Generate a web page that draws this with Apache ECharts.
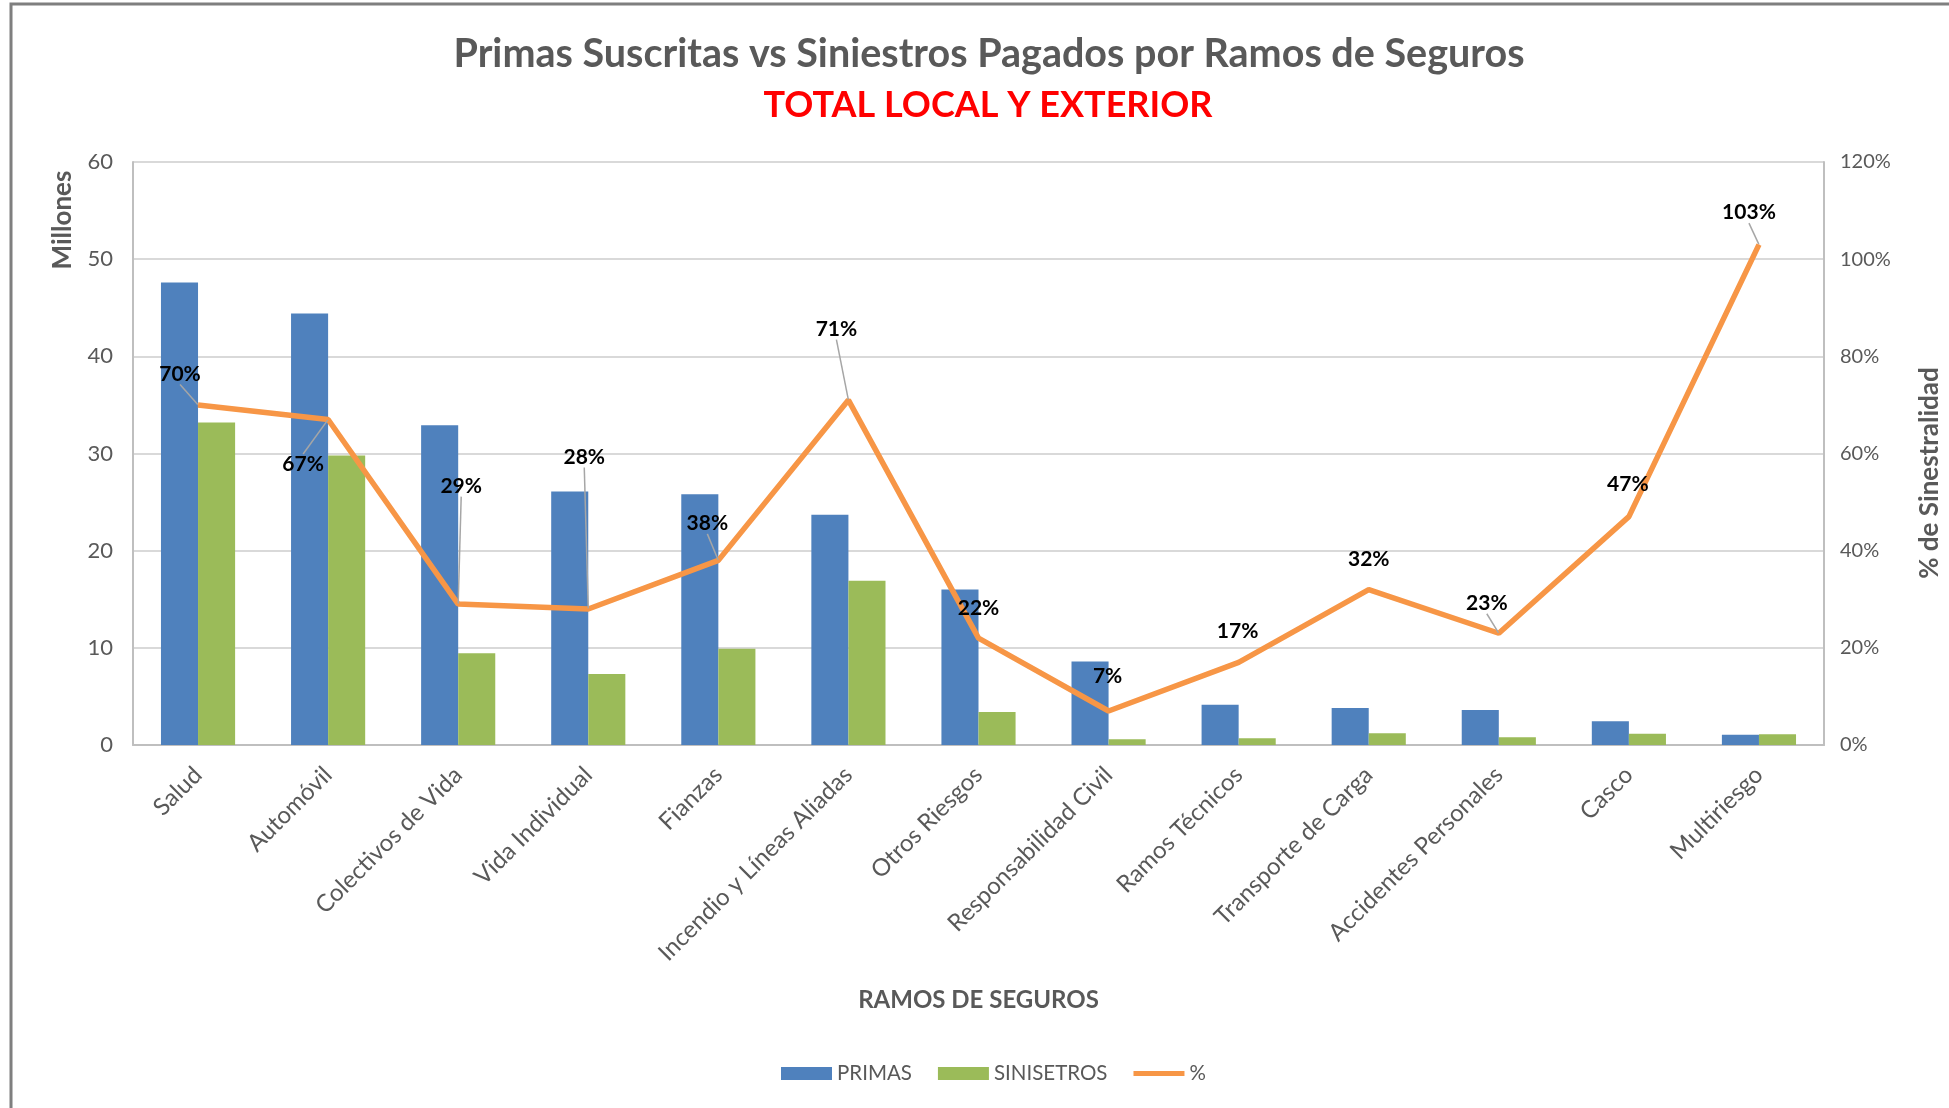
<!DOCTYPE html>
<html lang="es" style="height: 100%">
<head>
  <meta charset="utf-8">
</head>
<body style="height: 100%; margin: 0; background: #fff">
<div id="container" style="height: 100%"></div>

<script type="text/javascript" src="https://fastly.jsdelivr.net/npm/echarts@6/dist/echarts.min.js"></script>
<script type="text/javascript">
  // datos
  var ramos = ['Salud', 'Automóvil', 'Colectivos de Vida', 'Vida Individual', 'Fianzas',
    'Incendio y Líneas Aliadas', 'Otros Riesgos', 'Responsabilidad Civil', 'Ramos Técnicos',
    'Transporte de Carga', 'Accidentes Personales', 'Casco', 'Multiriesgo'];
  var primas = [47.6, 44.4, 32.9, 26.1, 25.8, 23.7, 16.0, 8.6, 4.15, 3.8, 3.6, 2.45, 1.05];
  var siniestros = [33.2, 29.8, 9.45, 7.3, 9.9, 16.9, 3.4, 0.6, 0.7, 1.2, 0.8, 1.15, 1.1];
  var siniestralidad = [70, 67, 29, 28, 38, 71, 22, 7, 17, 32, 23, 47, 103];

  // escalas de los ejes
  var millonesMax = 60, millonesPaso = 10;
  var pctMax = 120, pctPaso = 20;

  // desplazamiento de cada etiqueta del % (dx, dy, con linea guia)
  var etiquetaOffset = [[-18, -31, 1], [-25, 45, 1], [3, -118, 1], [-4, -152, 1], [-11, -37, 1],
    [-12, -71, 1], [0, -30, 0], [-1, -35, 0], [-1, -31, 0], [0, -30, 0], [-12, -30, 1],
    [-1, -32, 0], [-10, -32, 1]];

  var fuente = 'Lato';
  var gris = '#595959';

  var dom = document.getElementById('container');
  var myChart = echarts.init(dom, null, { renderer: 'canvas' });

  var option = {
    backgroundColor: '#fff',
    textStyle: { fontFamily: fuente },
    title: [
      {
        text: 'Primas Suscritas vs Siniestros Pagados por Ramos de Seguros',
        left: 984, top: 29, textAlign: 'center',
        textStyle: { fontFamily: fuente, fontSize: 39.5, fontWeight: 'bold', color: gris }
      },
      {
        text: 'TOTAL LOCAL Y EXTERIOR',
        left: 983, top: 82, textAlign: 'center',
        textStyle: { fontFamily: fuente, fontSize: 36, fontWeight: 'bold', color: '#FF0000' }
      }
    ],
    legend: {
      top: 1058,
      left: 776,
      itemWidth: 51,
      itemHeight: 13,
      itemGap: 26,
      textStyle: { fontFamily: fuente, fontSize: 20.5, color: gris },
      data: [
        { name: 'PRIMAS', icon: 'rect' },
        { name: 'SINISETROS', icon: 'rect' },
        { name: '%', icon: 'path://M0,0 H51 V5 H0 Z' }
      ]
    },
    grid: {
      left: 133, right: 125, top: 162, bottom: 363,
      containLabel: false,
      outerBoundsMode: 'none'
    },
    xAxis: {
      type: 'category',
      data: ramos,
      name: 'RAMOS DE SEGUROS',
      nameLocation: 'middle',
      nameGap: 243,
      nameTextStyle: { fontFamily: fuente, fontSize: 24, fontWeight: 'bold', color: gris },
      axisLine: { lineStyle: { color: '#bfbfbf', width: 2 } },
      axisTick: { show: false },
      axisLabel: {
        rotate: 45, interval: 0, margin: 26,
        fontFamily: fuente, fontSize: 24, color: gris
      }
    },
    yAxis: [
      {
        type: 'value',
        min: 0, max: millonesMax, interval: millonesPaso,
        axisLine: { show: true, lineStyle: { color: '#bfbfbf', width: 2 } },
        axisTick: { show: false },
        splitLine: { lineStyle: { color: '#d9d9d9', width: 2 } },
        axisLabel: { margin: 20, fontFamily: fuente, fontSize: 22, color: gris }
      },
      {
        type: 'value',
        min: 0, max: pctMax, interval: pctPaso,
        position: 'right',
        axisLine: { show: true, lineStyle: { color: '#bfbfbf', width: 2 } },
        axisTick: { show: false },
        splitLine: { show: false },
        axisLabel: { margin: 16, fontFamily: fuente, fontSize: 20, color: gris, formatter: '{value}%' }
      }
    ],
    graphic: [
      {
        type: 'rect', silent: true,
        shape: { x: 11, y: 4, width: 3000, height: 3000 },
        style: { fill: 'none', stroke: '#7f7f7f', lineWidth: 3 }
      },
      {
        type: 'text', x: 63, y: 220, rotation: Math.PI / 2,
        style: {
          text: 'Millones', align: 'center', verticalAlign: 'middle',
          fontFamily: fuente, fontSize: 26, fontWeight: 'bold', fill: gris
        }
      },
      {
        type: 'text', x: 1930, y: 473, rotation: Math.PI / 2,
        style: {
          text: '% de Sinestralidad', align: 'center', verticalAlign: 'middle',
          fontFamily: fuente, fontSize: 26, fontWeight: 'bold', fill: gris
        }
      }
    ],
    series: [
      {
        name: 'PRIMAS',
        type: 'bar',
        data: primas,
        barGap: 0,
        barCategoryGap: '43%',
        itemStyle: { color: '#4F81BD' }
      },
      {
        name: 'SINISETROS',
        type: 'bar',
        data: siniestros,
        itemStyle: { color: '#9BBB59' }
      },
      {
        name: '%',
        type: 'line',
        yAxisIndex: 1,
        z: 5,
        data: siniestralidad.map(function (v, i) {
          return { value: v, labelLine: { show: !!etiquetaOffset[i][2] } };
        }),
        symbol: 'circle',
        symbolSize: 1,
        showSymbol: true,
        itemStyle: { color: '#F79646' },
        lineStyle: { color: '#F79646', width: 5.5 },
        label: {
          show: true,
          position: 'inside',
          formatter: '{c}%',
          fontFamily: fuente, fontSize: 21, fontWeight: 'bold', color: '#000'
        },
        labelLine: {
          show: true,
          lineStyle: { color: '#a6a6a6', width: 1.5 }
        },
        labelLayout: function (params) {
          var o = etiquetaOffset[params.dataIndex];
          return { dx: o[0], dy: o[1] };
        }
      }
    ]
  };

  if (option && typeof option === 'object') {
    myChart.setOption(option);
  }

  window.addEventListener('resize', myChart.resize);
</script>
</body>
</html>
